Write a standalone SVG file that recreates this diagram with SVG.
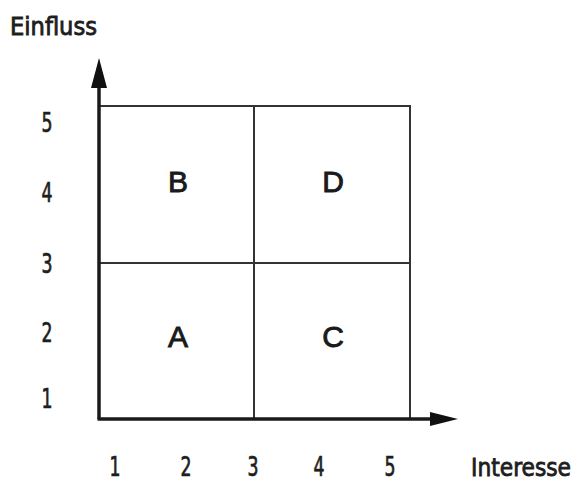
<svg xmlns="http://www.w3.org/2000/svg" width="575" height="483" viewBox="0 0 575 483">
  <style>
    .lbl { font-family: "DejaVu Sans Condensed", "Liberation Sans", sans-serif; font-stretch: condensed; fill: #1e1e1e; stroke: #1e1e1e; stroke-width: 0.7; }
    .num { font-size: 27px; text-anchor: middle; }
    .axis-title { font-size: 25px; stroke-width: 0.8; }
    .quad { font-family: "Liberation Sans", Arial, sans-serif; font-size: 30px; text-anchor: middle; fill: #1a1a1a; stroke: #1a1a1a; stroke-width: 0.9; }
    .axis { stroke: #1a1a1a; stroke-width: 3.5; fill: none; }
    .grid { stroke: #333; stroke-width: 2; fill: none; }
    .head { fill: #111; }
  </style>
  <rect width="575" height="483" fill="#fff"/>

  <!-- quadrant grid -->
  <g id="grid">
    <rect class="grid" x="99" y="106" width="311" height="313"/>
    <line class="grid" x1="254" y1="106" x2="254" y2="419"/>
    <line class="grid" x1="99" y1="263" x2="410" y2="263"/>
  </g>

  <!-- axes with arrowheads -->
  <g id="axes">
    <line class="axis" x1="99" y1="419" x2="99" y2="88"/>
    <path class="head" d="M99 58 L107 88 L91 88 Z"/>
    <line class="axis" x1="97.5" y1="419" x2="430" y2="419"/>
    <path class="head" d="M458 419 L430 412 L430 426 Z"/>
  </g>

  <!-- quadrant labels -->
  <g id="quadrant-B"><text class="quad" x="178" y="192">B</text></g>
  <g id="quadrant-D"><text class="quad" x="333" y="192">D</text></g>
  <g id="quadrant-A"><text class="quad" x="178" y="347">A</text></g>
  <g id="quadrant-C"><text class="quad" x="333" y="347">C</text></g>

  <!-- axis titles -->
  <text class="lbl axis-title" x="10" y="35" textLength="87" lengthAdjust="spacingAndGlyphs">Einfluss</text>
  <text class="lbl axis-title" x="471" y="476" textLength="100" lengthAdjust="spacingAndGlyphs">Interesse</text>

  <!-- y scale -->
  <g id="y-scale" class="lbl num">
    <text x="47" y="132" textLength="11" lengthAdjust="spacingAndGlyphs">5</text>
    <text x="47" y="202" textLength="11" lengthAdjust="spacingAndGlyphs">4</text>
    <text x="47" y="273" textLength="11" lengthAdjust="spacingAndGlyphs">3</text>
    <text x="47" y="342" textLength="11" lengthAdjust="spacingAndGlyphs">2</text>
    <text x="47" y="408" textLength="11" lengthAdjust="spacingAndGlyphs">1</text>
  </g>

  <!-- x scale -->
  <g id="x-scale" class="lbl num">
    <text x="115" y="476" textLength="11" lengthAdjust="spacingAndGlyphs">1</text>
    <text x="186" y="476" textLength="11" lengthAdjust="spacingAndGlyphs">2</text>
    <text x="253" y="476" textLength="11" lengthAdjust="spacingAndGlyphs">3</text>
    <text x="319" y="476" textLength="11" lengthAdjust="spacingAndGlyphs">4</text>
    <text x="390" y="476" textLength="11" lengthAdjust="spacingAndGlyphs">5</text>
  </g>
</svg>
